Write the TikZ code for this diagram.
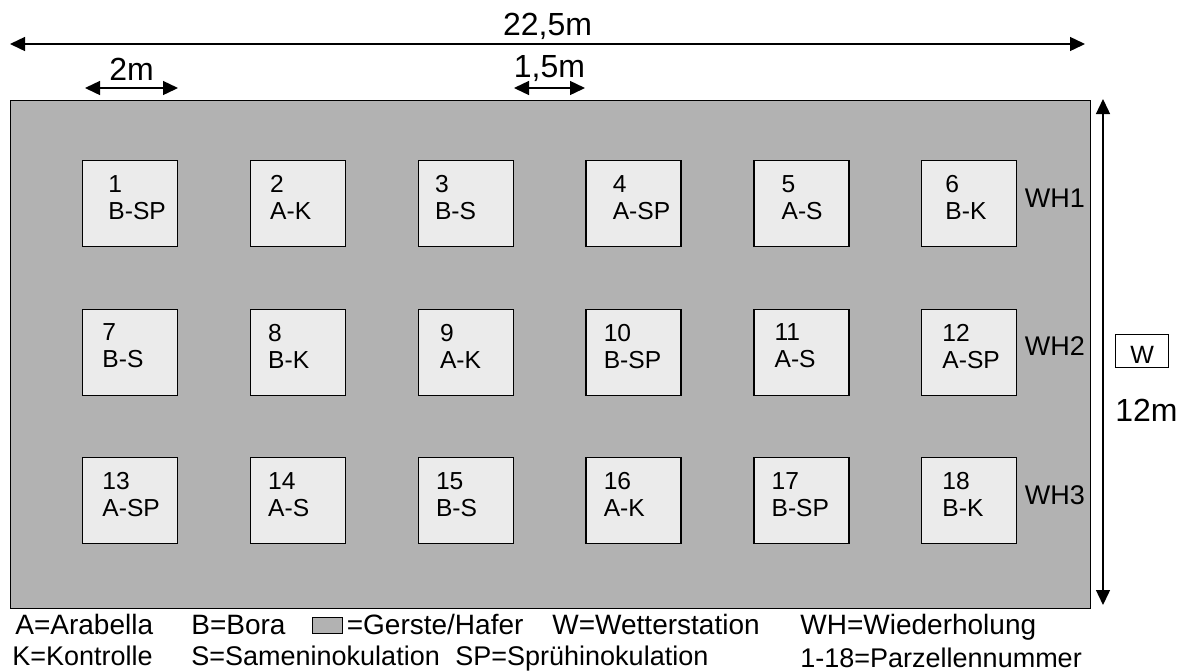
\documentclass[tikz,border=0pt]{standalone}
\usepackage{fontspec}
\setmainfont{Liberation Sans}
\usetikzlibrary{arrows.meta}

\tikzset{
  field/.style={draw=black, fill=black!30, line width=0.7pt, inner sep=0pt, anchor=north west},
  plot/.style={draw=black, fill=black!8, line width=0.7pt, minimum width=47.5pt, minimum height=43pt, inner sep=0pt, anchor=north west},
  plotlabel/.style={align=left, anchor=north west, inner sep=0pt, font=\fontsize{12.3}{13.5}\selectfont},
  dim/.style={line width=0.7pt, {Triangle[length=7.5pt,width=7pt]}-{Triangle[length=7.5pt,width=7pt]}},
  dimlabel/.style={font=\fontsize{16}{19}\selectfont},
  whlabel/.style={anchor=base west, inner sep=0pt, font=\fontsize{13.5}{16}\selectfont},
  legend/.style={anchor=base west, inner sep=0pt, font=\fontsize{14}{16}\selectfont},
}

\begin{document}
\begin{tikzpicture}[x=0.5pt, y=-0.5pt]
  \useasboundingbox (0,0) rectangle (1183,671);

  % Feld
  \node[field, minimum width=540pt, minimum height=254pt] (feld) at (10,100) {};

  % Parzellen
  \foreach \n/\txt/\dx in {1/B-SP/26, 2/A-K/20, 3/B-S/17, 4/A-SP/27, 5/A-S/28, 6/B-K/24,
      7/B-S/20, 8/B-K/18, 9/A-K/22, 10/B-SP/18, 11/A-S/21, 12/A-SP/21,
      13/A-SP/20, 14/A-S/18, 15/B-S/18, 16/A-K/18, 17/B-SP/18, 18/B-K/21}{
    \pgfmathtruncatemacro{\col}{mod(\n-1,6)}
    \pgfmathtruncatemacro{\row}{(\n-1)/6}
    \node[plot] (p\n) at ({82+167.8*\col},{160+148.5*\row}) {};
    \node[plotlabel] (l\n) at ([shift={(\dx,15)}]p\n.north west) {\n\\\txt};
  }

  % Wiederholungen
  \node[whlabel] (wh1) at ([shift={(7,47)}]p6.north east) {WH1};
  \node[whlabel] (wh2) at ([shift={(7,47)}]p12.north east) {WH2};
  \node[whlabel] (wh3) at ([shift={(7,47)}]p18.north east) {WH3};

  % Masse
  \coordinate (b0) at (10,44);
  \coordinate (b1) at (1085,44);
  \draw[dim] (b0) -- node[dimlabel, above, inner sep=2pt] (breite) {22,5m} (b1);
  \coordinate (a0) at (85,88);
  \coordinate (a1) at (178,88);
  \draw[dim] (a0) -- node[dimlabel, above, inner sep=3.5pt] (parz) {2m} (a1);
  \coordinate (c0) at (514,88);
  \coordinate (c1) at (585,88);
  \draw[dim] (c0) -- node[dimlabel, above, inner sep=3pt] (weg) {1,5m} (c1);
  \coordinate (h0) at (1103,99);
  \coordinate (h1) at (1103,605);
  \draw[dim] (h0) -- (h1);
  \node[dimlabel, anchor=base west, inner sep=0pt] (hoehe) at (1115,421) {12m};

  % Wetterstation
  \node[draw, fill=white, line width=0.7pt, anchor=north west, inner sep=0pt,
    minimum width=26.5pt, text height=14.5pt, text depth=2pt,
    font=\fontsize{12.5}{14}\selectfont] (w) at (1115,334) {W};

  % Legende
  \node[legend] (lA) at (15,634) {A=Arabella};
  \node[legend] (lB) at (191,634) {B=Bora};
  \node[draw, fill=black!30, line width=0.7pt, minimum width=15pt, minimum height=8pt,
    inner sep=0pt, anchor=south west] (lG0) at (312,634) {};
  \node[legend] (lG) at ([xshift=1.5pt]lG0.south east) {=Gerste/Hafer};
  \node[legend] (lW) at (552,634) {W=Wetterstation};
  \node[legend] (lWH) at (800,634) {WH=Wiederholung};
  \node[legend, font=\fontsize{13.5}{16}\selectfont] (lK) at (12,665) {K=Kontrolle};
  \node[legend, font=\fontsize{13.5}{16}\selectfont] (lS) at (191,665) {S=Sameninokulation};
  \node[legend, font=\fontsize{13.5}{16}\selectfont] (lSP) at (455,665) {SP=Sprühinokulation};
  \node[legend, font=\fontsize{13.5}{16}\selectfont] (lN) at (800,667) {1-18=Parzellennummer};
\end{tikzpicture}
\end{document}
